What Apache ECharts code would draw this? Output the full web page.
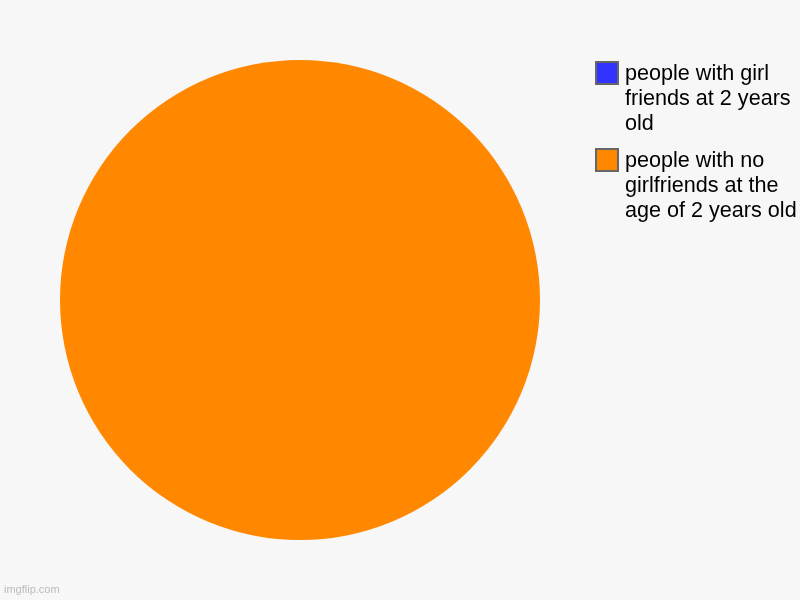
<!DOCTYPE html>
<html>
<head>
<meta charset="utf-8">
<script src="https://cdn.jsdelivr.net/npm/echarts@6/dist/echarts.min.js"></script>
<style>
html,body{margin:0;padding:0;background:#f7f7f7;}
#main{width:800px;height:600px;}
</style>
</head>
<body>
<div id="main"></div>
<script>
var categories = ["people with girl friends at 2 years old", "people with no girlfriends at the age of 2 years old"];
var legendLines = ["people with girl\nfriends at 2 years\nold", "people with no\ngirlfriends at the\nage of 2 years old"];
var values = [0, 100];
var colors = ["#3333ff", "#ff8800"];

var chart = echarts.init(document.getElementById('main'));
var graphics = [];
var legendTops = [61, 148];
for (var i = 0; i < categories.length; i++) {
  graphics.push({
    type: 'rect', left: 595, top: legendTops[i],
    shape: {width: 22, height: 22},
    style: {fill: colors[i], stroke: '#666666', lineWidth: 2}
  });
  graphics.push({
    type: 'text', left: 625, top: legendTops[i] + 1,
    style: {text: legendLines[i], font: '21.6px "Liberation Sans", Arial, sans-serif', lineHeight: 25, fill: '#000000'}
  });
}
graphics.push({
  type: 'text', left: 4, top: 584,
  style: {text: 'imgflip.com', font: '11px "Liberation Sans", Arial, sans-serif', fill: '#bbbbbb'}
});

chart.setOption({
  backgroundColor: '#f7f7f7',
  animation: false,
  legend: {show: false},
  graphic: graphics,
  series: [{
    type: 'pie',
    center: [300, 300],
    radius: 240,
    startAngle: 90,
    label: {show: false},
    labelLine: {show: false},
    itemStyle: {borderWidth: 0},
    data: categories.map(function (c, i) {
      return {name: c, value: values[i], itemStyle: {color: colors[i]}};
    })
  }]
});
</script>
</body>
</html>
